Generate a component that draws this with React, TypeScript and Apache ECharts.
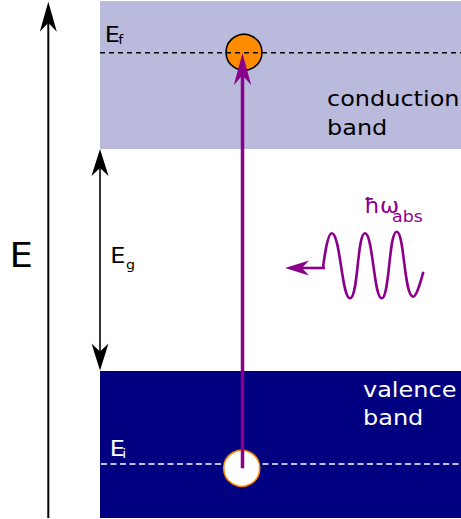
import React, { useEffect, useRef } from "react";
import * as echarts from "echarts";

// ---- data (diagram coordinates: x to the right, y downward, in picture units) ----
const conductionBand = [[100, 1, 461, 149]];
const valenceBand = [[100, 371, 461, 518]];
const fermiLevel = [[100, 52.7], [461, 52.7]];
const initialLevel = [[101, 464], [461, 464]];
const electron = [[244, 52.3]];
const hole = [[241.7, 468.3]];
const energyAxisArrow = [[48.3, 518, 48.3, 1.7]];
const gapArrow = [[100, 149, 100, 370.5]];
const transitionArrow = [[242.5, 468.3, 242.5, 53.3]];
const photonArrow = [[325, 268, 285, 268]];
const photonWave = [
  [323, 268], [331.7, 233.3], [350, 298.3], [365, 233.3],
  [381.7, 298.3], [396.7, 231.7], [413.3, 296.7], [423.3, 271.7],
];
const labels = {
  energy: "E",
  fermi: ["E", "f"],
  gap: ["E", "g"],
  initial: ["E", "i"],
  conduction: ["conduction", "band"],
  valence: ["valence", "band"],
  photon: ["ħω", "abs"],
};

const PURPLE = "#8b008b";
const LAVENDER = "#babadd";
const NAVY = "#000080";
const ORANGE = "#ff8c00";
const FONT = "DejaVu Sans";

function rectSeries(data: number[][], color: string, z: number) {
  return {
    type: "custom",
    data,
    z,
    silent: true,
    renderItem: (_p: any, api: any) => {
      const a = api.coord([api.value(0), api.value(1)]);
      const b = api.coord([api.value(2), api.value(3)]);
      return {
        type: "rect",
        shape: {
          x: Math.min(a[0], b[0]),
          y: Math.min(a[1], b[1]),
          width: Math.abs(b[0] - a[0]),
          height: Math.abs(b[1] - a[1]),
        },
        style: { fill: color },
      };
    },
  };
}

function arrowSeries(
  data: number[][],
  o: { color: string; width: number; L: number; W: number; N: number; both?: boolean; z: number }
) {
  return {
    type: "custom",
    data,
    z: o.z,
    silent: true,
    renderItem: (_p: any, api: any) => {
      const a = api.coord([api.value(0), api.value(1)]);
      const b = api.coord([api.value(2), api.value(3)]);
      const dx = b[0] - a[0];
      const dy = b[1] - a[1];
      const len = Math.hypot(dx, dy) || 1;
      const ux = dx / len;
      const uy = dy / len;
      const head = (tip: number[], sx: number, sy: number) => {
        const nx = -sy;
        const ny = sx;
        const back = [tip[0] - sx * o.L, tip[1] - sy * o.L];
        const notch = [tip[0] - sx * o.N, tip[1] - sy * o.N];
        return {
          type: "polygon",
          shape: {
            points: [
              tip,
              [back[0] + (nx * o.W) / 2, back[1] + (ny * o.W) / 2],
              notch,
              [back[0] - (nx * o.W) / 2, back[1] - (ny * o.W) / 2],
            ],
          },
          style: { fill: o.color },
        };
      };
      const end = [b[0] - ux * o.N * 0.9, b[1] - uy * o.N * 0.9];
      const start = o.both ? [a[0] + ux * o.N * 0.9, a[1] + uy * o.N * 0.9] : a;
      const children: any[] = [
        {
          type: "line",
          shape: { x1: start[0], y1: start[1], x2: end[0], y2: end[1] },
          style: { stroke: o.color, lineWidth: o.width },
        },
        head(b, ux, uy),
      ];
      if (o.both) children.push(head(a, -ux, -uy));
      return { type: "group", children };
    },
  };
}

function txt(text: string, x: number, y: number, size: number, color: string) {
  return {
    type: "text",
    x,
    y,
    scaleX: 1.09,
    z: 100,
    silent: true,
    style: {
      text,
      fontSize: size,
      fontFamily: FONT,
      fill: color,
      align: "left",
      verticalAlign: "middle",
    },
  };
}

export default function App() {
  const ref = useRef<HTMLDivElement>(null);
  useEffect(() => {
    if (!ref.current) return;
    const chart = echarts.init(ref.current, undefined, { renderer: "svg" });
    const option: any = {
      animation: false,
      backgroundColor: "#ffffff",
      grid: { left: 0, right: 0, top: 0, bottom: 0 },
      xAxis: { type: "value", min: 0, max: 461, show: false },
      yAxis: { type: "value", min: 0, max: 519, inverse: true, show: false },
      series: [
        rectSeries(conductionBand, LAVENDER, 1),
        rectSeries(valenceBand, NAVY, 1),
        {
          type: "scatter",
          data: electron,
          z: 2,
          silent: true,
          symbol: "circle",
          symbolSize: 36,
          itemStyle: { color: ORANGE, borderColor: "#000", borderWidth: 1.6, opacity: 1 },
        },
        {
          type: "scatter",
          data: hole,
          z: 2,
          silent: true,
          symbol: "circle",
          symbolSize: 36,
          itemStyle: { color: "#ffffff", borderColor: ORANGE, borderWidth: 1.6, opacity: 1 },
        },
        {
          type: "line",
          data: fermiLevel,
          z: 3,
          silent: true,
          symbol: "none",
          lineStyle: { color: "#000", width: 1.6, type: [5, 4] },
        },
        {
          type: "line",
          data: initialLevel,
          z: 3,
          silent: true,
          symbol: "none",
          lineStyle: { color: "#fff", width: 1.6, type: [6, 3.5] },
        },
        arrowSeries(energyAxisArrow, { color: "#000", width: 2, L: 30, W: 17, N: 21, z: 4 }),
        arrowSeries(gapArrow, { color: "#000", width: 1.6, L: 27, W: 17, N: 19, both: true, z: 4 }),
        arrowSeries(transitionArrow, { color: PURPLE, width: 3.5, L: 32, W: 17.5, N: 22, z: 5 }),
        arrowSeries(photonArrow, { color: PURPLE, width: 2.6, L: 24, W: 15, N: 17, z: 5 }),
        {
          type: "line",
          data: photonWave,
          z: 5,
          silent: true,
          symbol: "none",
          smooth: 0.5,
          lineStyle: { color: PURPLE, width: 2.6 },
        },
      ],
      graphic: [
        txt(labels.energy, 9.5, 255, 34, "#000"),
        txt(labels.fermi[0], 104.7, 34, 22, "#000"),
        txt(labels.fermi[1], 118.3, 38.8, 13, "#000"),
        txt(labels.gap[0], 110.3, 255.5, 22, "#000"),
        txt(labels.gap[1], 126, 264, 13, "#000"),
        txt(labels.initial[0], 109.7, 448.3, 22, "#fff"),
        txt(labels.initial[1], 122.2, 453.5, 13, "#fff"),
        txt(labels.conduction[0], 327, 98.4, 22, "#000"),
        txt(labels.conduction[1], 327, 127.4, 22, "#000"),
        txt(labels.valence[0], 363, 389, 22, "#fff"),
        txt(labels.valence[1], 363, 417.4, 22, "#fff"),
        txt(labels.photon[0], 364, 205.7, 21, PURPLE),
        txt(labels.photon[1], 392, 216.5, 16, PURPLE),
      ],
    };
    chart.setOption(option);
    return () => chart.dispose();
  }, []);
  return (
    <div
      ref={ref}
      style={{ position: "absolute", left: 0, top: 0, width: 461, height: 519, background: "#fff" }}
    />
  );
}
